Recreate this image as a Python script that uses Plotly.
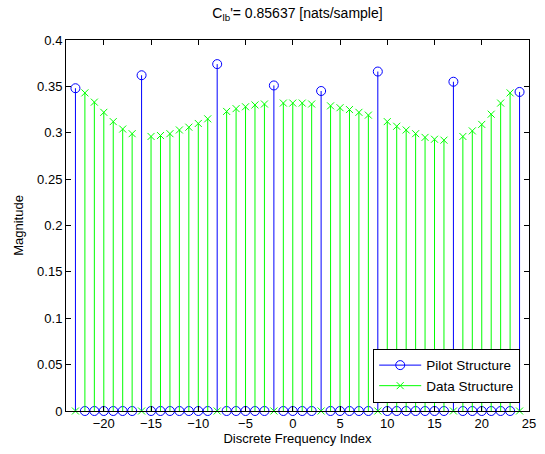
import plotly.graph_objects as go

# Subcarrier indices and magnitudes
freq_index = list(range(-23, 25))

pilot_index = [-23, -16, -8, -2, 3, 9, 17, 24]
pilot_magnitude = [0.348, 0.362, 0.374, 0.351, 0.345, 0.366, 0.355, 0.344]

data_index = [-22, -21, -20, -19, -18, -17,
              -15, -14, -13, -12, -11, -10, -9,
              -7, -6, -5, -4, -3,
              -1, 0, 1, 2,
              4, 5, 6, 7, 8,
              10, 11, 12, 13, 14, 15, 16,
              18, 19, 20, 21, 22, 23]
data_magnitude = [0.343, 0.333, 0.322, 0.312, 0.304, 0.299,
                  0.296, 0.297, 0.299, 0.303, 0.306, 0.310, 0.315,
                  0.323, 0.326, 0.328, 0.330, 0.331,
                  0.332, 0.332, 0.332, 0.331,
                  0.329, 0.327, 0.325, 0.322, 0.319,
                  0.312, 0.307, 0.303, 0.299, 0.295, 0.293, 0.292,
                  0.296, 0.302, 0.309, 0.320, 0.332, 0.343]

title_text = "C<sub>lb</sub>'= 0.85637 [nats/sample]"

BLUE = "#0000FF"
GREEN = "#00FF00"
FONT = "Liberation Sans, Arial, Helvetica, sans-serif"


def full_series(idx, vals):
    lookup = dict(zip(idx, vals))
    return [lookup.get(k, 0.0) for k in freq_index]


def stem_xy(xs, ys):
    sx, sy = [], []
    for x, y in zip(xs, ys):
        sx += [x, x, None]
        sy += [0, y, None]
    return sx, sy


pilot_full = full_series(pilot_index, pilot_magnitude)
data_full = full_series(data_index, data_magnitude)

fig = go.Figure()

for name, vals, color, symbol, msize in [
    ("Pilot Structure", pilot_full, BLUE, "circle-open", 9),
    ("Data Structure", data_full, GREEN, "x-thin-open", 7),
]:
    sx, sy = stem_xy(freq_index, vals)
    fig.add_trace(go.Scatter(
        x=sx, y=sy, mode="lines",
        line=dict(color=color, width=1),
        showlegend=False, hoverinfo="skip", legendgroup=name,
    ))
    fig.add_trace(go.Scatter(
        x=freq_index, y=vals, mode="markers",
        marker=dict(symbol=symbol, size=msize, color=color,
                    line=dict(color=color, width=1)),
        showlegend=False, legendgroup=name, name=name,
        cliponaxis=False,
    ))
    # legend entry (line + marker)
    fig.add_trace(go.Scatter(
        x=[None], y=[None], mode="lines+markers", name=name,
        line=dict(color=color, width=1),
        marker=dict(symbol=symbol, size=msize, color=color,
                    line=dict(color=color, width=1)),
        legendgroup=name,
    ))

axis_common = dict(
    showline=True, linecolor="black", linewidth=1, mirror="ticks",
    ticks="inside", ticklen=5, tickcolor="black", tickwidth=1,
    showgrid=False, zeroline=False,
    tickfont=dict(family=FONT, size=13, color="black"),
)

fig.update_xaxes(
    range=[-24, 25], tickmode="linear", tick0=-20, dtick=5,
    title=dict(text="Discrete Frequency Index",
               font=dict(family=FONT, size=13, color="black"), standoff=4),
    **axis_common,
)
fig.update_yaxes(
    range=[0, 0.4], tickmode="linear", tick0=0, dtick=0.05,
    title=dict(text="Magnitude",
               font=dict(family=FONT, size=13, color="black"), standoff=10),
    **axis_common,
)

fig.update_layout(
    width=545, height=454,
    margin=dict(l=66, r=9, t=40, b=43),
    paper_bgcolor="white", plot_bgcolor="white",
    font=dict(family=FONT, size=13, color="black"),
    title=dict(text=title_text, x=0.5, xref="paper", xanchor="center",
               y=1 - 13 / 454, yref="container", yanchor="middle",
               font=dict(family=FONT, size=14, color="black")),
    legend=dict(
        x=0.981, y=0.022, xanchor="right", yanchor="bottom",
        bgcolor="white", bordercolor="black", borderwidth=1,
        font=dict(family=FONT, size=13.5, color="black"),
        tracegroupgap=0, itemwidth=42,
    ),
)

fig.write_html("out.html")
